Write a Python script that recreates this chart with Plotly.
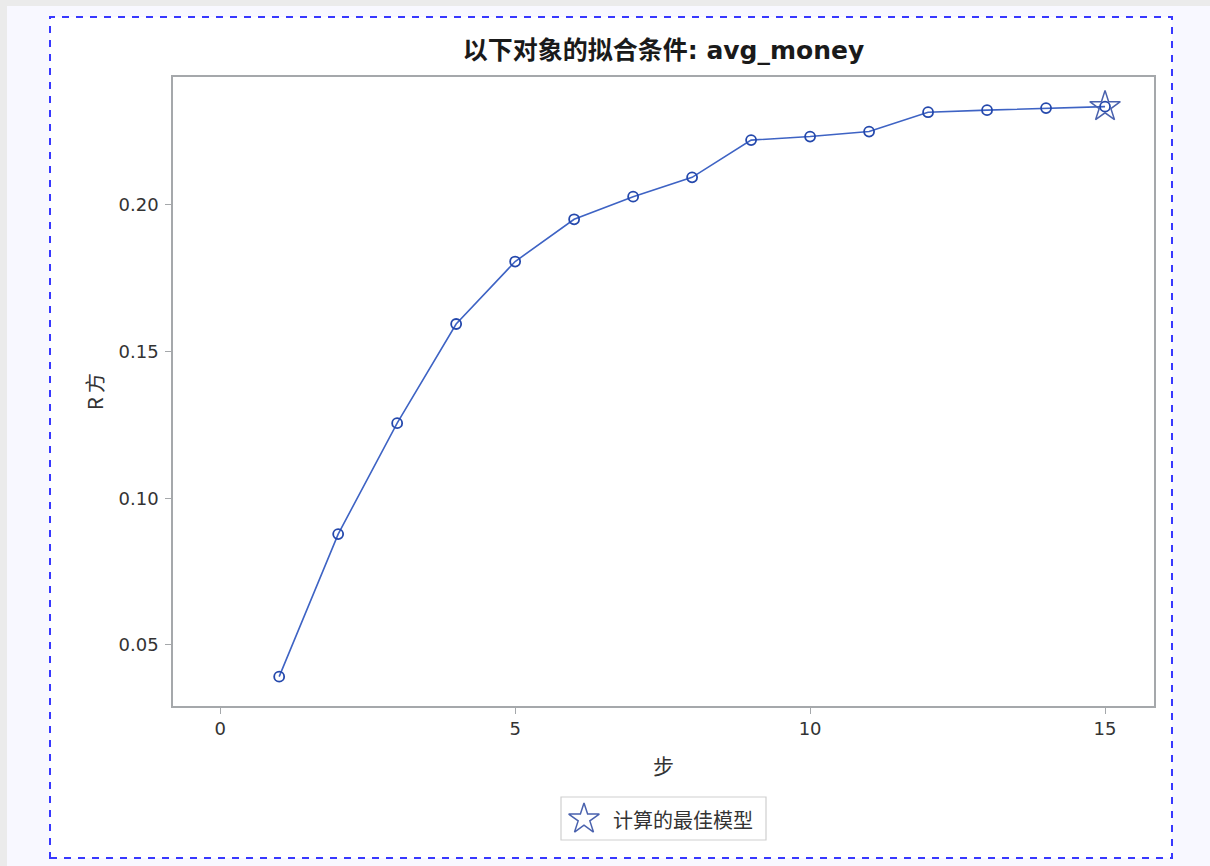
import plotly.graph_objects as go

# Stepwise selection: R-square after each step
steps = [1, 2, 3, 4, 5, 6, 7, 8, 9, 10, 11, 12, 13, 14, 15]
r_square = [0.0392, 0.0878, 0.1256, 0.1594, 0.1807, 0.1951, 0.2028, 0.2094,
            0.2221, 0.2233, 0.2250, 0.2316, 0.2323, 0.2330, 0.2335]
best_step = 15
best_value = r_square[steps.index(best_step)]

x_ticks = [0, 5, 10, 15]
y_ticks = [0.05, 0.10, 0.15, 0.20]

title_text = "以下对象的拟合条件: avg_money"
x_title = "步"
y_title = "R 方"
legend_text = "计算的最佳模型"

W, H = 1210, 866
# plot-area box in pixels (left, right, top, bottom)
PX0, PX1, PY0, PY1 = 173, 1154, 77, 706

LATIN = "DejaVu Sans, Noto Sans CJK SC, sans-serif"
CJK = "Noto Sans CJK SC, sans-serif"
LINE_COLOR = "#3e63c4"
MARK_COLOR = "#2448ac"
STAR_COLOR = "#4a62ae"
AXIS_COLOR = "#a5a8ab"


def px(x):
    return x / W


def py(y):
    return 1 - y / H


fig = go.Figure()

fig.add_trace(go.Scatter(
    x=steps, y=r_square, mode="lines+markers",
    line=dict(color=LINE_COLOR, width=1.6),
    marker=dict(symbol="circle-open", size=10, color=MARK_COLOR,
                line=dict(width=1.8, color=MARK_COLOR)),
    showlegend=False, hoverinfo="x+y",
))

fig.add_trace(go.Scatter(
    x=[best_step], y=[best_value], mode="markers",
    marker=dict(symbol="star-open", size=23, color=STAR_COLOR,
                line=dict(width=1.5, color=STAR_COLOR)),
    showlegend=False, name=legend_text,
))

# Legend glyph, placed on a full-figure pixel axis pair
fig.add_trace(go.Scatter(
    x=[584], y=[819], mode="markers", xaxis="x2", yaxis="y2",
    marker=dict(symbol="star-open", size=23, color=STAR_COLOR,
                line=dict(width=1.5, color=STAR_COLOR)),
    showlegend=False, hoverinfo="skip", cliponaxis=False,
))

shapes = [
    # textured page edge strips
    dict(type="rect", xref="paper", yref="paper", x0=0, x1=1, y0=py(6), y1=1,
         fillcolor="#ebebeb", line=dict(width=0), layer="below"),
    dict(type="rect", xref="paper", yref="paper", x0=0, x1=px(7), y0=0, y1=1,
         fillcolor="#ebebeb", line=dict(width=0), layer="below"),
    # white panel with dashed blue border
    dict(type="rect", xref="paper", yref="paper",
         x0=px(50), x1=px(1172), y0=py(858), y1=py(17),
         fillcolor="white", line=dict(color="#3838ff", width=2, dash="7px,7px"),
         layer="below"),
    # legend frame
    dict(type="rect", xref="paper", yref="paper",
         x0=px(561), x1=px(766), y0=py(840), y1=py(797),
         fillcolor="white", line=dict(color="#cfcfcf", width=1.2), layer="below"),
]

fig.update_layout(
    width=W, height=H,
    margin=dict(l=0, r=0, t=0, b=0, autoexpand=False),
    paper_bgcolor="#f8f8ff",
    plot_bgcolor="rgba(0,0,0,0)",
    font=dict(family=LATIN, size=17, color="#333333"),
    title=dict(text=title_text, x=px((PX0 + PX1) / 2), xref="paper", xanchor="center",
               y=py(50), yref="container", yanchor="middle",
               font=dict(family=LATIN, size=25, color="#1a1a1a", weight="bold")),
    xaxis=dict(domain=[px(PX0), px(PX1)], anchor="y",
               range=[-0.8, 15.83], tickvals=x_ticks, ticks="outside", ticklen=6,
               tickcolor=AXIS_COLOR, showline=True, linecolor=AXIS_COLOR, linewidth=1.5,
               mirror=True, showgrid=False, zeroline=False,
               tickfont=dict(family=LATIN, size=18, color="#333333"),
               title=dict(text=x_title, standoff=21,
                          font=dict(family=CJK, size=21, color="#333333"))),
    yaxis=dict(domain=[py(PY1), py(PY0)], anchor="x",
               range=[0.0292, 0.2436], tickvals=y_ticks, tickformat=".2f",
               ticks="outside", ticklen=6, tickcolor=AXIS_COLOR, showline=True,
               linecolor=AXIS_COLOR, linewidth=1.5, mirror=True, showgrid=False,
               zeroline=False, ticklabelstandoff=3,
               tickfont=dict(family=LATIN, size=18, color="#333333"),
               title=dict(text=y_title, standoff=10,
                          font=dict(family=CJK, size=20, color="#333333"))),
    xaxis2=dict(domain=[0, 1], anchor="y2", range=[0, W], visible=False, fixedrange=True),
    yaxis2=dict(domain=[0, 1], anchor="x2", range=[H, 0], visible=False, fixedrange=True),
    shapes=shapes,
    annotations=[dict(text=legend_text, xref="paper", yref="paper",
                      x=px(611), y=py(819), xanchor="left", yanchor="middle",
                      showarrow=False,
                      font=dict(family=CJK, size=20, color="#333333"))],
    showlegend=False,
)

fig.write_html("out.html")
